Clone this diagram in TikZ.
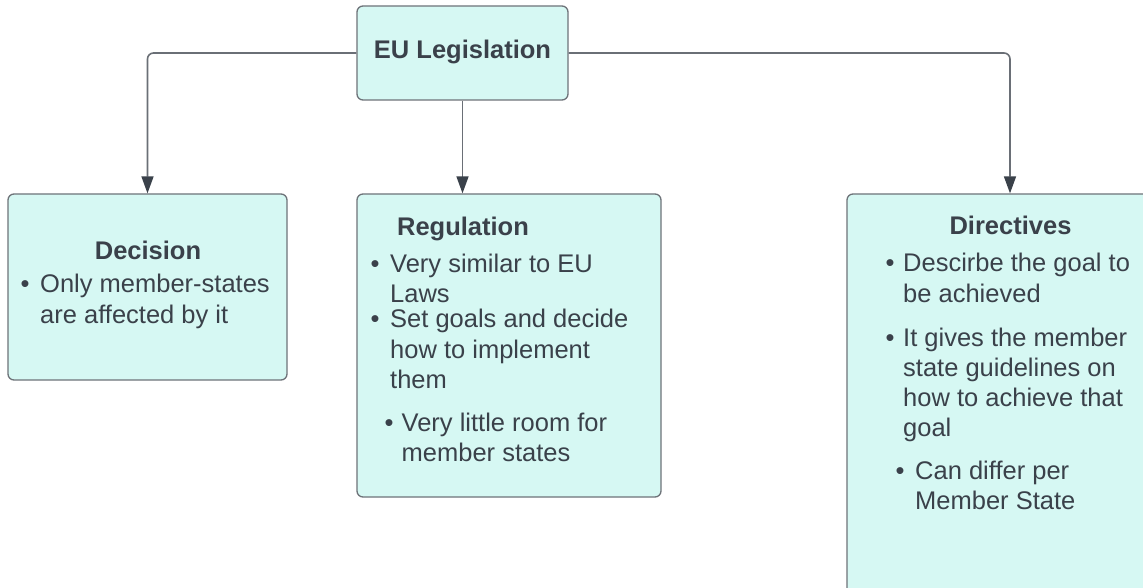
\documentclass[tikz,border=0pt]{standalone}
\usepackage{fontspec}
\setmainfont{Liberation Sans}
\usetikzlibrary{arrows.meta}
\definecolor{boxfill}{HTML}{D6F8F3}
\definecolor{boxline}{HTML}{6E7379}
\definecolor{txtc}{HTML}{3A414A}
\definecolor{lnk}{HTML}{6A6F76}
\begin{document}
\begin{tikzpicture}[x=1pt,y=-1pt,
  box/.style={draw=boxline, fill=boxfill, line width=1.3pt, rounded corners=6pt, inner sep=0pt},
  conn/.style={draw=lnk, line width=1.6pt, rounded corners=6pt, -{Triangle[length=17pt,width=12pt,color=txtc,fill=txtc]}},
  ttl/.style={anchor=base, inner sep=0pt, text=txtc, font=\fontsize{25.5}{30}\selectfont\bfseries},
  txt/.style={anchor=base west, inner sep=0pt, text=txtc, font=\fontsize{25.5}{30}\selectfont}]
\useasboundingbox (0,0) rectangle (1143,588);
\clip (0,0) rectangle (1143,588);
\fill[white] (0,0) rectangle (1143,588);
% boxes
\node[box, minimum width=211pt, minimum height=94pt] (eu) at (462.5,53) {};
\node[box, minimum width=279pt, minimum height=186pt] (dec) at (147.5,287) {};
\node[box, minimum width=304pt, minimum height=303pt] (reg) at (509,345.5) {};
\node[box, minimum width=326pt, minimum height=420pt] (dir) at (1010,404) {};
% connectors
\draw[conn] (eu.west) -| (dec.north);
\draw[conn] (eu.south) -- (eu.south |- reg.north);
\draw[conn] (eu.east) -| (dir.north);
% EU
\node[ttl] (eut) at (462.5,59) {EU Legislation};
% Decision
\node[ttl] (dect) at (148,259) {Decision};
\node[txt] at (20.5,292) {•};
\node[txt] at (40,292) {Only member-states};
\node[txt] at (40,323) {are affected by it};
% Regulation
\node[ttl] (regt) at (463,236) {Regulation};
\node[txt] at (370.5,272) {•};
\node[txt] at (390,272) {Very similar to EU};
\node[txt] at (390,302) {Laws};
\node[txt] at (370.5,327) {•};
\node[txt] at (390,327) {Set goals and decide};
\node[txt] at (390,358) {how to implement};
\node[txt] at (390,388) {them};
\node[txt] at (384.5,431) {•};
\node[txt] at (401.5,431) {Very little room for};
\node[txt] at (401.5,461) {member states};
% Directives
\node[ttl] (dirt) at (1010.5,235) {Directives};
\node[txt] at (885.5,271) {•};
\node[txt] at (903,271) {Descirbe the goal to};
\node[txt] at (903,302) {be achieved};
\node[txt] at (885.5,346) {•};
\node[txt] at (903,346) {It gives the member};
\node[txt] at (903,376) {state guidelines on};
\node[txt] at (903,406) {how to achieve that};
\node[txt] at (903,436) {goal};
\node[txt] at (895.5,479) {•};
\node[txt] at (915,479) {Can differ per};
\node[txt] at (915,509) {Member State};
\end{tikzpicture}
\end{document}
